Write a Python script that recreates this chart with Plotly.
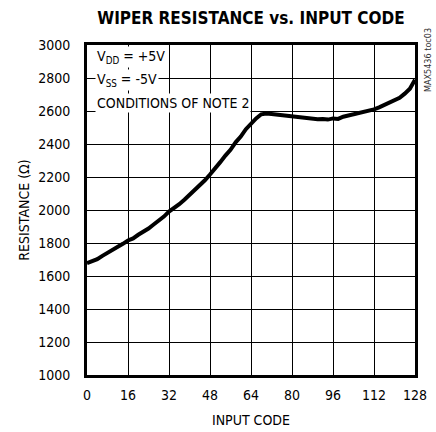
import plotly.graph_objects as go

input_code = list(range(0, 129, 2))
resistance = [1678, 1690, 1702, 1722, 1740, 1752, 1775, 1795, 1815, 1828,
              1850, 1868, 1888, 1912, 1935, 1960, 1990, 2010, 2035, 2062,
              2090, 2120, 2150, 2180, 2215, 2250, 2290, 2330, 2365, 2410,
              2445, 2490, 2525, 2555, 2580, 2585, 2582, 2578, 2575, 2572,
              2570, 2565, 2562, 2556, 2552, 2550, 2552, 2548, 2555, 2552,
              2565, 2572, 2578, 2585, 2595, 2600, 2610, 2622, 2635, 2648,
              2665, 2680, 2705, 2735, 2790]

x_ticks = [0, 16, 32, 48, 64, 80, 96, 112, 128]
y_ticks = [1000, 1200, 1400, 1600, 1800, 2000, 2200, 2400, 2600, 2800, 3000]

FONT = "Liberation Sans Narrow, DejaVu Sans Condensed, Arial Narrow, sans-serif"


def f(size, color="black"):
    return dict(family=FONT, size=size, color=color)


fig = go.Figure()
fig.add_trace(go.Scatter(x=input_code, y=resistance, mode="lines",
                         line=dict(color="black", width=4), showlegend=False))

fig.update_layout(
    width=436, height=432,
    margin=dict(l=87, r=21, t=45, b=57),
    paper_bgcolor="white", plot_bgcolor="white",
    font=f(14),
    title=dict(text="<b>WIPER RESISTANCE vs. INPUT CODE</b>",
               x=(87 + 415) / 2 / 436, xanchor="center", y=1 - 18 / 432, yanchor="middle",
               font=f(17)),
    xaxis=dict(range=[0, 128], tickvals=x_ticks, showgrid=True, gridcolor="black", gridwidth=1,
               showline=True, linecolor="black", linewidth=3, mirror=True, zeroline=False,
               ticks="", ticklabelstandoff=5, tickfont=f(14), automargin=False,
               title=dict(text="INPUT CODE", standoff=14, font=f(14))),
    yaxis=dict(range=[1000, 3000], tickvals=y_ticks, showgrid=True, gridcolor="black", gridwidth=1,
               showline=True, linecolor="black", linewidth=3, mirror=True, zeroline=False,
               ticks="", ticklabelstandoff=11, tickfont=f(14), automargin=False,
               title=dict(text="RESISTANCE (Ω)", standoff=6, font=f(14))),
)

notes = [("V<sub>DD</sub> = +5V", 2925), ("V<sub>SS</sub> = -5V", 2785), ("CONDITIONS OF NOTE 2", 2650)]
for txt, yv in notes:
    fig.add_annotation(x=3, y=yv, xref="x", yref="y", text=txt, showarrow=False,
                       xanchor="left", yanchor="middle", bgcolor="white", borderpad=1,
                       font=f(14))

fig.add_annotation(x=1 + 13 / 328, y=1 - 15 / 330, xref="paper", yref="paper",
                   text="MAX5436 toc03", textangle=-90, showarrow=False,
                   xanchor="center", yanchor="middle",
                   font=f(9, "#333333"))

fig.write_html("out.html", config={"displayModeBar": False},
               post_script="document.body.style.margin='0';")
